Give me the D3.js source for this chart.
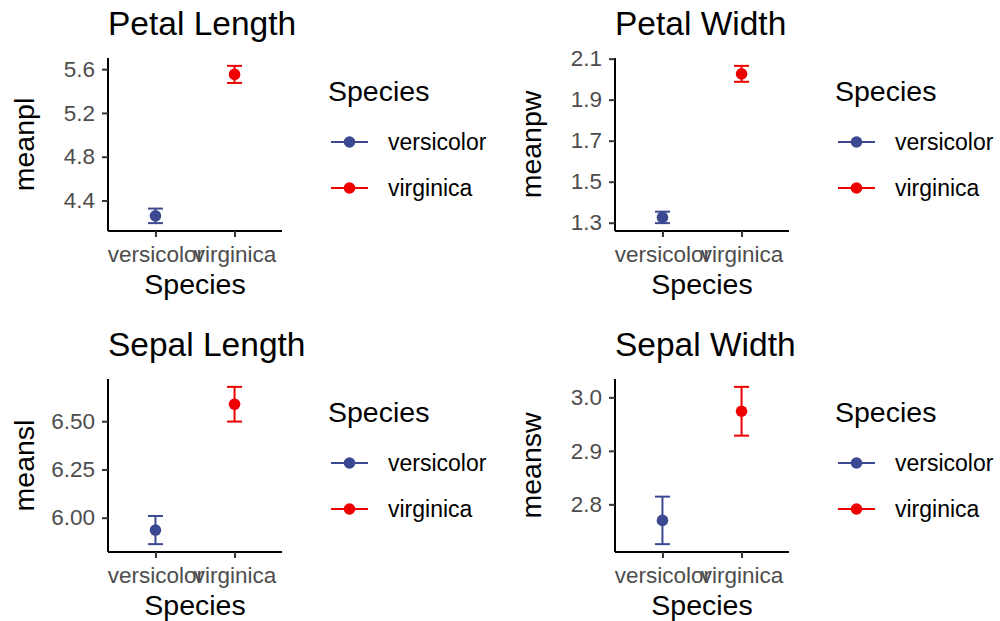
<!DOCTYPE html>
<html>
<head>
<meta charset="utf-8">
<script src="https://cdn.jsdelivr.net/npm/d3@7"></script>
<style>
  html, body { margin: 0; padding: 0; background: #fff; }
  svg { display: block; font-family: "Liberation Sans", Arial, sans-serif; }
</style>
</head>
<body>
<svg id="chart" width="1000" height="621"></svg>
<script>
// Iris summary: mean and standard error per species
const species = ["versicolor", "virginica"];
const speciesColors = ["#3B4992", "#EE0000"];

const petalLengthMean = [4.260, 5.552];
const petalLengthSE   = [0.0665, 0.0780];
const petalWidthMean  = [1.326, 2.026];
const petalWidthSE    = [0.0280, 0.0388];
const sepalLengthMean = [5.936, 6.588];
const sepalLengthSE   = [0.0730, 0.0899];
const sepalWidthMean  = [2.770, 2.974];
const sepalWidthSE    = [0.0444, 0.0456];

const petalLengthTicks = [4.4, 4.8, 5.2, 5.6];
const petalWidthTicks  = [1.3, 1.5, 1.7, 1.9, 2.1];
const sepalLengthTicks = [6.00, 6.25, 6.50];
const sepalWidthTicks  = [2.8, 2.9, 3.0];

const panels = [
  { title: "Petal Length", ylab: "meanpl", mean: petalLengthMean, se: petalLengthSE, ticks: petalLengthTicks, fmt: ".1f", x: 108, y: 58 },
  { title: "Petal Width",  ylab: "meanpw", mean: petalWidthMean,  se: petalWidthSE,  ticks: petalWidthTicks,  fmt: ".1f", x: 615, y: 58 },
  { title: "Sepal Length", ylab: "meansl", mean: sepalLengthMean, se: sepalLengthSE, ticks: sepalLengthTicks, fmt: ".2f", x: 108, y: 379 },
  { title: "Sepal Width",  ylab: "meansw", mean: sepalWidthMean,  se: sepalWidthSE,  ticks: sepalWidthTicks,  fmt: ".1f", x: 615, y: 379 }
];

const W = 174, H = 173;
const color = d3.scaleOrdinal().domain(species).range(speciesColors);
const svg = d3.select("#chart");

panels.forEach(p => {
  const rows = species.map((s, i) => ({ s, m: p.mean[i], lo: p.mean[i] - p.se[i], hi: p.mean[i] + p.se[i] }));
  const lo = d3.min(rows, d => d.lo), hi = d3.max(rows, d => d.hi);
  const pad = (hi - lo) * 0.05;

  const x = d3.scalePoint().domain(species).range([0, W]).padding(0.6);
  const y = d3.scaleLinear().domain([lo - pad, hi + pad]).range([H, 0]);

  const g = svg.append("g").attr("transform", `translate(${p.x},${p.y})`);

  // panel title
  g.append("text").attr("x", 0).attr("y", -23)
    .attr("font-size", 33.5).attr("fill", "#000").text(p.title);

  // axes
  const ya = g.append("g").call(d3.axisLeft(y).tickValues(p.ticks).tickFormat(d3.format(p.fmt)).tickSize(6).tickPadding(7));
  const xa = g.append("g").attr("transform", `translate(0,${H})`)
    .call(d3.axisBottom(x).tickSize(6).tickPadding(9));
  [ya, xa].forEach(a => {
    a.select(".domain").attr("stroke", "#000").attr("stroke-width", 2);
    a.selectAll(".tick line").attr("stroke", "#333").attr("stroke-width", 2);
    a.selectAll(".tick text").attr("fill", "#4D4D4D").attr("font-size", 22.5)
      .attr("font-family", "Liberation Sans, Arial, sans-serif");
  });
  ya.select(".domain").attr("d", `M0,${H}V0`);
  xa.select(".domain").attr("d", `M0,0H${W}`);

  // axis titles
  g.append("text").attr("x", W / 2).attr("y", H + 63).attr("text-anchor", "middle")
    .attr("font-size", 28.5).text("Species");
  g.append("text").attr("transform", `translate(${-74.5},${H / 2}) rotate(-90)`)
    .attr("text-anchor", "middle").attr("font-size", 28.5).text(p.ylab);

  // error bars and means
  const eb = g.selectAll(".eb").data(rows).enter().append("g")
    .attr("stroke", d => color(d.s)).attr("stroke-width", 2);
  eb.append("line").attr("x1", d => x(d.s)).attr("x2", d => x(d.s))
    .attr("y1", d => y(d.lo)).attr("y2", d => y(d.hi));
  eb.append("line").attr("x1", d => x(d.s) - 7.5).attr("x2", d => x(d.s) + 7.5)
    .attr("y1", d => y(d.lo)).attr("y2", d => y(d.lo));
  eb.append("line").attr("x1", d => x(d.s) - 7.5).attr("x2", d => x(d.s) + 7.5)
    .attr("y1", d => y(d.hi)).attr("y2", d => y(d.hi));
  g.selectAll(".pt").data(rows).enter().append("circle")
    .attr("cx", d => x(d.s)).attr("cy", d => y(d.m)).attr("r", 5.8)
    .attr("fill", d => color(d.s));

  // legend
  const lg = g.append("g").attr("transform", `translate(${W + 46},0)`);
  lg.append("text").attr("x", 0).attr("y", 43).attr("font-size", 28.5).text("Species");
  species.forEach((s, i) => {
    const ly = 84 + i * 46;
    lg.append("line").attr("x1", 3).attr("x2", 40).attr("y1", ly).attr("y2", ly)
      .attr("stroke", color(s)).attr("stroke-width", 2);
    lg.append("circle").attr("cx", 21.5).attr("cy", ly).attr("r", 5.8).attr("fill", color(s));
    lg.append("text").attr("x", 60).attr("y", ly).attr("dy", "0.35em")
      .attr("font-size", 23).attr("fill", "#000").text(s);
  });
});
</script>
</body>
</html>
